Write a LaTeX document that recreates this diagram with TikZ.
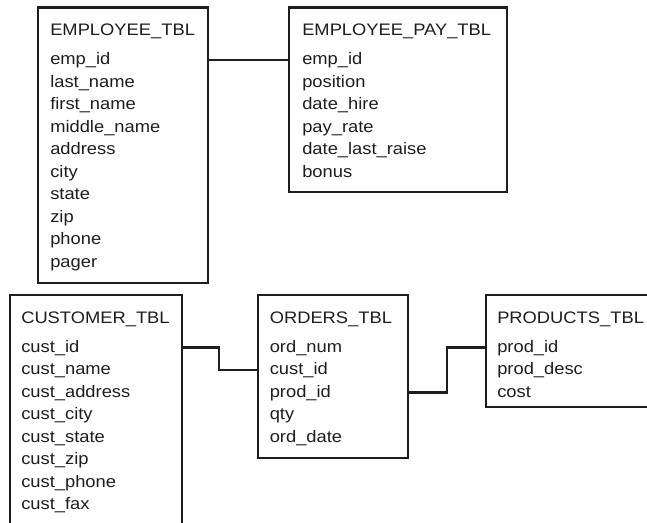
\documentclass[tikz,border=0pt]{standalone}
\usepackage{fontspec}
\setmainfont{Liberation Sans}[FakeStretch=1.1]
\usepackage{tikz}

\definecolor{ink}{HTML}{1E1E1E}
\tikzset{
  tbl/.style 2 args={draw=ink, line width=1.8pt, anchor=north west, inner sep=0pt, outer sep=0pt,
    minimum width=#1*0.75pt, minimum height=#2*0.75pt},
  fld/.style={anchor=west, inner sep=0pt, text height=7.5pt, text depth=0pt, text=ink,
    font=\fontsize{12.5}{14}\selectfont},
  link/.style={draw=ink, line width=1.6pt}
}

\begin{document}
\begin{tikzpicture}[x=0.75pt, y=-0.75pt]
                    \useasboundingbox (0,0) rectangle (647,523);
                    \clip (0,0) rectangle (647,523);
                    \fill[white] (0,0) rectangle (647,523);
                    % employee tables
                    \node[tbl={170}{275.5}] (emp) at (38,7.5) {};
                    \node[fld] (emp-t) at (50,31) {EMPLOYEE\_TBL};
                    \foreach \f [count=\i] in {emp\_id,last\_name,first\_name,middle\_name,address,city,state,zip,phone,pager}
                        \node[fld] (emp-\i) at (50,{37.5+22.5*\i}) {\f};
                    \node[tbl={218}{184.5}] (pay) at (289,7.5) {};
                    \node[fld] (pay-t) at (302,31) {EMPLOYEE\_PAY\_TBL};
                    \foreach \f [count=\i] in {emp\_id,position,date\_hire,pay\_rate,date\_last\_raise,bonus}
                        \node[fld] (pay-\i) at (302,{37.5+22.5*\i}) {\f};
                    % customer, orders, products
                    \node[tbl={172}{250}] (cust) at (10,295) {};
                    \node[fld] (cust-t) at (21,318.5) {CUSTOMER\_TBL};
                    \foreach \f [count=\i] in {cust\_id,cust\_name,cust\_address,cust\_city,cust\_state,cust\_zip,cust\_phone,cust\_fax}
                        \node[fld] (cust-\i) at (21,{325+22.5*\i}) {\f};
                    \node[tbl={150}{163}] (ord) at (258,295) {};
                    \node[fld] (ord-t) at (269.5,318.5) {ORDERS\_TBL};
                    \foreach \f [count=\i] in {ord\_num,cust\_id,prod\_id,qty,ord\_date}
                        \node[fld] (ord-\i) at (269.5,{325+22.5*\i}) {\f};
                    \node[tbl={180}{112}] (prod) at (486,295) {};
                    \node[fld] (prod-t) at (497,318.5) {PRODUCTS\_TBL};
                    \foreach \f [count=\i] in {prod\_id,prod\_desc,cost}
                        \node[fld] (prod-\i) at (497,{325+22.5*\i}) {\f};
                    % links
                    \draw[link] (emp-1 -| emp.east) -- (pay-1 -| pay.west);
                    \draw[link] (cust-1 -| cust.east) -- ++(37,0) |- (ord-2 -| ord.west);
                    \draw[link] (ord-3 -| ord.east) -- ++(39,0) |- (prod-1 -| prod.west);
                \end{tikzpicture}
\end{document}
